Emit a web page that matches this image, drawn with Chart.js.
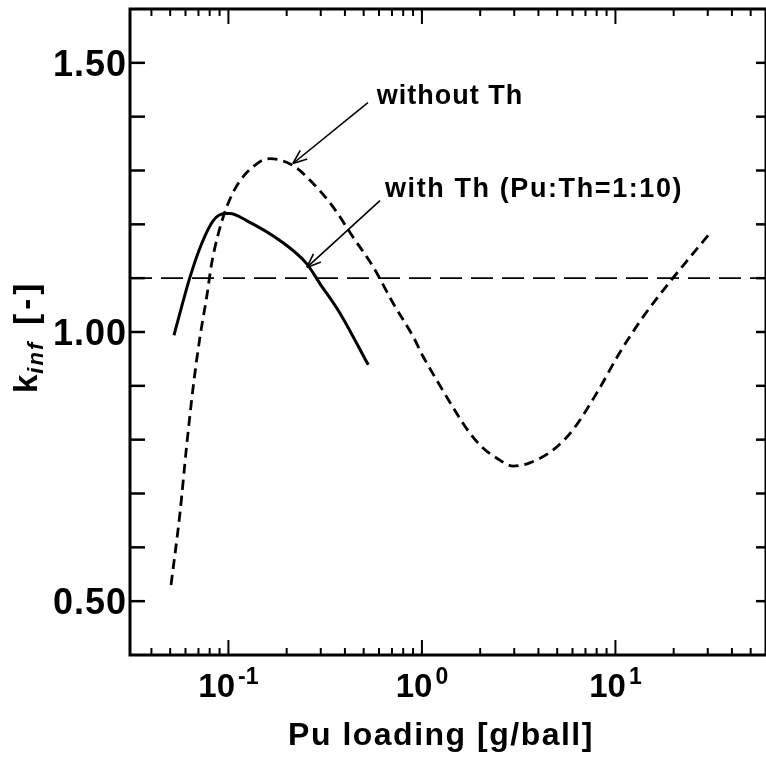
<!DOCTYPE html>
<html>
<head>
<meta charset="utf-8">
<script src="https://cdn.jsdelivr.net/npm/chart.js@4.4.1/dist/chart.umd.min.js"></script>
<style>
  html, body { margin: 0; padding: 0; background: #ffffff; }
  #c { display: block; }
</style>
</head>
<body>
<canvas id="c" width="766" height="759"></canvas>
<script>
// k_inf versus Pu loading, with and without thorium
const withoutThLoading = [0.0505, 0.0562, 0.0608, 0.0658, 0.0713, 0.0772, 0.0819, 0.0886, 0.0979, 0.1124,
  0.145, 0.164, 0.216, 0.274, 0.348, 0.441, 0.56, 0.711, 0.902, 1.016, 1.246, 1.511, 1.77, 2.075, 2.43, 2.965, 3.61,
  4.77, 6.05, 7.99, 10.5, 13.9, 19.1, 24.3, 30.2];
const withoutThKinf = [0.530, 0.664, 0.788, 0.899, 0.991, 1.065, 1.127, 1.182, 1.232, 1.276,
  1.316, 1.322, 1.309, 1.276, 1.232, 1.176, 1.121, 1.053, 0.991, 0.954, 0.899, 0.849, 0.812, 0.784, 0.766, 0.751, 0.757,
  0.781, 0.819, 0.886, 0.961, 1.028, 1.093, 1.139, 1.180];

const withThLoading = [0.0523, 0.0633, 0.0727, 0.0835, 0.096, 0.1018, 0.124, 0.1845, 0.2535, 0.297, 0.377, 0.528];
const withThKinf = [0.994, 1.102, 1.164, 1.207, 1.220, 1.220, 1.207, 1.170, 1.127, 1.090, 1.035, 0.939];

const referenceKinf = 1.10;

const xLimits = [0.031, 60];
const yLimits = [0.4, 1.6];
const yMinorStep = 0.1;
const yLabelValues = [0.5, 1.0, 1.5];
const xLabelExponents = [-1, 0, 1];

const xTitle = 'Pu loading [g/ball]';
const yTitleMain = 'k';
const yTitleSub = 'inf';
const yTitleUnit = '[-]';

// callouts: label, where the arrow starts, where it points (data units)
const calloutLabels = ['without Th', 'with Th (Pu:Th=1:10)'];
const calloutTail = [[0.526, 1.426], [0.607, 1.244]];
const calloutTip = [[0.2155, 1.313], [0.2544, 1.120]];
const calloutText = [[0.585, 1.424], [0.644, 1.250]];
const calloutSpacing = ['1px', '1.6px'];

const FONT = '"Liberation Sans", Arial, Helvetica, sans-serif';

function pairs(xs, ys) { return xs.map((v, i) => ({ x: v, y: ys[i] })); }

const frameAndLabels = {
  id: 'frameAndLabels',
  afterDraw(chart) {
    const { ctx, chartArea: a, scales } = chart;
    const sx = scales.x, sy = scales.y;
    const seg = (x1, y1, x2, y2) => { ctx.beginPath(); ctx.moveTo(x1, y1); ctx.lineTo(x2, y2); ctx.stroke(); };
    ctx.save();
    ctx.strokeStyle = '#000';
    ctx.fillStyle = '#000';
    ctx.lineCap = 'butt';

    // frame
    ctx.lineWidth = 3;
    ctx.strokeRect(a.left, a.top, a.right - a.left, a.bottom - a.top);

    // y ticks (inward, both sides)
    ctx.lineWidth = 2.5;
    const nY = Math.round((yLimits[1] - yLimits[0]) / yMinorStep);
    for (let i = 1; i < nY; i++) {
      const py = sy.getPixelForValue(yLimits[0] + i * yMinorStep);
      seg(a.left, py, a.left + 15, py);
      seg(a.right - 10, py, a.right, py);
    }

    // x ticks (inward, bottom and top), decades and 2..9
    ctx.lineWidth = 2;
    for (let e = -2; e <= 2; e++) {
      for (let m = 1; m <= 9; m++) {
        const v = m * Math.pow(10, e);
        if (v <= xLimits[0] || v >= xLimits[1]) continue;
        const px = sx.getPixelForValue(v);
        const len = m === 1 ? 15 : 7;
        seg(px, a.bottom, px, a.bottom - len);
        seg(px, a.top, px, a.top + len);
      }
    }

    ctx.letterSpacing = '0px';
    // y tick labels
    ctx.font = 'bold 36px ' + FONT;
    ctx.textAlign = 'right';
    ctx.textBaseline = 'alphabetic';
    ctx.letterSpacing = '1px';
    yLabelValues.forEach(v => {
      const py = sy.getPixelForValue(v);
      ctx.fillText(v.toFixed(2), a.left - 3, py + 13);
    });
    ctx.letterSpacing = '0px';

    // x tick labels: 10 with superscript exponent
    ctx.textAlign = 'left';
    xLabelExponents.forEach(ex => {
      const px = sx.getPixelForValue(Math.pow(10, ex));
      ctx.font = 'bold 33px ' + FONT;
      const base = '10';
      const wb = ctx.measureText(base).width;
      ctx.font = 'bold 23px ' + FONT;
      const sup = String(ex);
      const ws = ctx.measureText(sup).width;
      const start = px - (wb + 3 + ws) / 2;
      ctx.font = 'bold 33px ' + FONT;
      ctx.fillText(base, start, a.bottom + 42);
      ctx.font = 'bold 23px ' + FONT;
      ctx.fillText(sup, start + wb + 3, a.bottom + 29);
    });

    // x title
    ctx.font = 'bold 32px ' + FONT;
    ctx.letterSpacing = '1.5px';
    ctx.textAlign = 'center';
    ctx.fillText(xTitle, 441, 745);

    // y title, rotated
    ctx.save();
    ctx.translate(37, 393);
    ctx.rotate(-Math.PI / 2);
    ctx.textAlign = 'left';
    ctx.letterSpacing = '0px';
    ctx.font = 'bold 33px ' + FONT;
    ctx.fillText(yTitleMain, 0, 0);
    let cx = ctx.measureText(yTitleMain).width + 1;
    ctx.font = 'italic bold 22px ' + FONT;
    ctx.letterSpacing = '2px';
    ctx.fillText(yTitleSub, cx, 6);
    cx += ctx.measureText(yTitleSub).width + 16;
    ctx.font = 'bold 33px ' + FONT;
    ctx.letterSpacing = '4px';
    ctx.fillText(yTitleUnit, cx, 0);
    ctx.restore();

    // callouts with open arrowheads
    ctx.font = 'bold 27px ' + FONT;
    ctx.textAlign = 'left';
    ctx.lineWidth = 1.6;
    calloutLabels.forEach((label, i) => {
      const tx = sx.getPixelForValue(calloutTail[i][0]), ty = sy.getPixelForValue(calloutTail[i][1]);
      const hx = sx.getPixelForValue(calloutTip[i][0]), hy = sy.getPixelForValue(calloutTip[i][1]);
      seg(tx, ty, hx, hy);
      const ang = Math.atan2(ty - hy, tx - hx);
      const hl = 15, spread = 0.38;
      seg(hx, hy, hx + hl * Math.cos(ang + spread), hy + hl * Math.sin(ang + spread));
      seg(hx, hy, hx + hl * Math.cos(ang - spread), hy + hl * Math.sin(ang - spread));
      const lx = sx.getPixelForValue(calloutText[i][0]), ly = sy.getPixelForValue(calloutText[i][1]);
      ctx.letterSpacing = calloutSpacing[i];
      ctx.fillText(label, lx, ly);
    });
    ctx.restore();
  }
};

new Chart(document.getElementById('c'), {
  type: 'line',
  data: {
    datasets: [
      {
        label: 'without Th',
        data: pairs(withoutThLoading, withoutThKinf),
        borderColor: '#000',
        borderWidth: 2.8,
        borderDash: [10, 6],
        cubicInterpolationMode: 'monotone',
        pointRadius: 0,
        fill: false
      },
      {
        label: 'with Th (Pu:Th=1:10)',
        data: pairs(withThLoading, withThKinf),
        borderColor: '#000',
        borderWidth: 3,
        cubicInterpolationMode: 'monotone',
        pointRadius: 0,
        fill: false
      },
      {
        label: 'k = 1.1',
        data: pairs(xLimits, [referenceKinf, referenceKinf]),
        borderColor: '#000',
        borderWidth: 1.8,
        borderDash: [22, 9],
        pointRadius: 0,
        fill: false
      }
    ]
  },
  options: {
    responsive: false,
    animation: false,
    layout: { padding: { left: 130, right: -2, top: 9, bottom: 104 } },
    scales: {
      x: { type: 'logarithmic', min: xLimits[0], max: xLimits[1], display: false },
      y: { type: 'linear', min: yLimits[0], max: yLimits[1], display: false }
    },
    plugins: { legend: { display: false }, tooltip: { enabled: false } }
  },
  plugins: [frameAndLabels]
});
</script>
</body>
</html>
